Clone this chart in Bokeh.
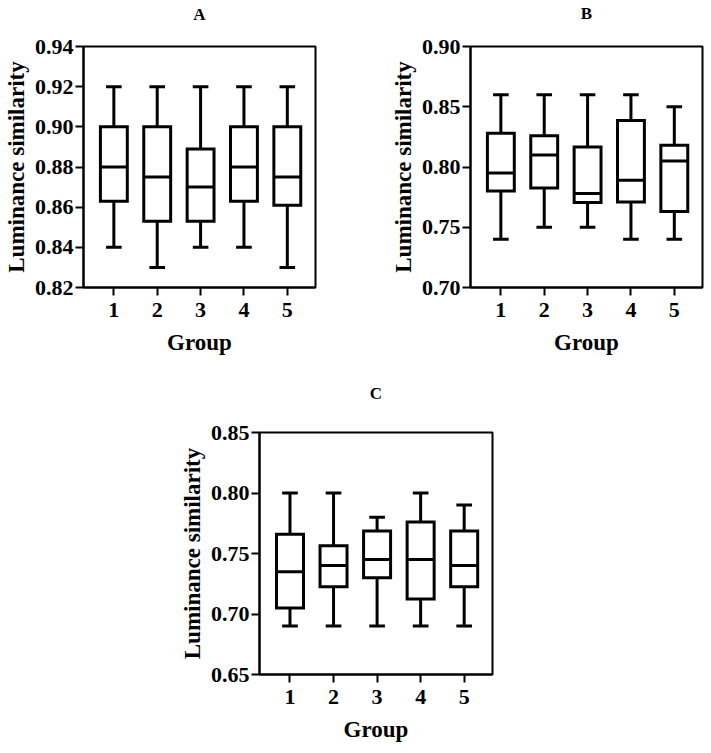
from bokeh.plotting import figure
from bokeh.layouts import column, row
from bokeh.models import Spacer, FixedTicker, NumeralTickFormatter, Range1d, LinearAxis
from bokeh.embed import file_html
from bokeh.resources import INLINE

# Five groups, one box per group in every panel
groups = [1, 2, 3, 4, 5]
group_labels = ["1", "2", "3", "4", "5"]

# Panel A: luminance similarity summary (whisker low, Q1, median, Q3, whisker high)
a_low = [0.84, 0.83, 0.84, 0.84, 0.83]
a_q1 = [0.863, 0.853, 0.853, 0.863, 0.861]
a_med = [0.88, 0.875, 0.87, 0.88, 0.875]
a_q3 = [0.90, 0.90, 0.889, 0.90, 0.90]
a_high = [0.92, 0.92, 0.92, 0.92, 0.92]
a_ticks = [0.82, 0.84, 0.86, 0.88, 0.90, 0.92, 0.94]

# Panel B
b_low = [0.74, 0.75, 0.75, 0.74, 0.74]
b_q1 = [0.780, 0.7825, 0.7705, 0.771, 0.763]
b_med = [0.795, 0.81, 0.778, 0.789, 0.805]
b_q3 = [0.828, 0.826, 0.8165, 0.8385, 0.818]
b_high = [0.86, 0.86, 0.86, 0.86, 0.85]
b_ticks = [0.70, 0.75, 0.80, 0.85, 0.90]

# Panel C
c_low = [0.69, 0.69, 0.69, 0.69, 0.69]
c_q1 = [0.705, 0.7225, 0.730, 0.7125, 0.7225]
c_med = [0.735, 0.74, 0.745, 0.745, 0.74]
c_q3 = [0.766, 0.7565, 0.7685, 0.776, 0.7685]
c_high = [0.80, 0.80, 0.78, 0.80, 0.79]
c_ticks = [0.65, 0.70, 0.75, 0.80, 0.85]

FONT = "Liberation Serif"
X_START, X_END = 0.3, 5.65
BOX_W = 0.62
CAP_W = 0.36
LW = 3


def panel(letter, low, q1, med, q3, high, yticks, width, height,
          left, right, top, bottom, letter_end, letter_gap):
    p = figure(width=width, height=height, output_backend="svg",
               toolbar_location=None, tools="", title=None,
               x_range=Range1d(X_START, X_END),
               y_range=Range1d(yticks[0], yticks[-1]),
               min_border_left=left, min_border_right=right,
               min_border_top=top, min_border_bottom=bottom)
    p.grid.visible = False
    p.background_fill_color = "white"
    p.border_fill_color = "white"
    p.outline_line_color = "black"
    p.outline_line_width = 2
    p.outline_line_alpha = 1

    # whiskers
    p.segment(x0=groups, y0=q3, x1=groups, y1=high, line_color="black", line_width=LW)
    p.segment(x0=groups, y0=low, x1=groups, y1=q1, line_color="black", line_width=LW)
    # caps
    cl = [g - CAP_W / 2 for g in groups]
    cr = [g + CAP_W / 2 for g in groups]
    p.segment(x0=cl, y0=high, x1=cr, y1=high, line_color="black", line_width=LW)
    p.segment(x0=cl, y0=low, x1=cr, y1=low, line_color="black", line_width=LW)
    # boxes
    p.vbar(x=groups, bottom=q1, top=q3, width=BOX_W, fill_color="white",
           line_color="black", line_width=LW, line_join="miter")
    # medians
    bl = [g - BOX_W / 2 for g in groups]
    br = [g + BOX_W / 2 for g in groups]
    p.segment(x0=bl, y0=med, x1=br, y1=med, line_color="black", line_width=LW)

    for ax in (p.xaxis[0], p.yaxis[0]):
        ax.axis_line_color = "black"
        ax.axis_line_width = 2
        ax.major_tick_line_color = "black"
        ax.major_tick_line_width = 2
        ax.major_tick_in = 0
        ax.major_tick_out = 8
        ax.minor_tick_line_color = None
        ax.major_label_text_font = FONT
        ax.major_label_text_font_style = "bold"
        ax.major_label_text_font_size = "22px"
        ax.major_label_text_color = "black"
        ax.axis_label_text_font = FONT
        ax.axis_label_text_font_style = "bold"
        ax.axis_label_text_font_size = "23px"
        ax.axis_label_text_color = "black"

    p.xaxis.ticker = FixedTicker(ticks=groups)
    p.xaxis.major_label_overrides = {g: s for g, s in zip(groups, group_labels)}
    p.xaxis.major_label_standoff = 7
    p.xaxis.axis_label = "Group"
    p.xaxis.axis_label_standoff = 10

    p.yaxis.ticker = FixedTicker(ticks=yticks)
    p.yaxis.formatter = NumeralTickFormatter(format="0.00")
    p.yaxis.major_label_standoff = 2
    p.yaxis.axis_label = "Luminance similarity"
    p.yaxis.axis_label_standoff = 3

    # panel letter: label of a tick-less, line-less axis above the frame
    top_axis = LinearAxis(ticker=FixedTicker(ticks=[]), bounds=(X_START, letter_end),
                          axis_line_color=None, minor_tick_line_color=None,
                          major_tick_in=0, major_tick_out=0,
                          minor_tick_in=0, minor_tick_out=0,
                          major_label_standoff=0,
                          axis_label=letter, axis_label_standoff=letter_gap,
                          axis_label_text_font=FONT,
                          axis_label_text_font_style="bold",
                          axis_label_text_font_size="17px",
                          axis_label_text_color="black")
    p.add_layout(top_axis, "above")
    return p


pa = panel("A", a_low, a_q1, a_med, a_q3, a_high, a_ticks,
           350, 375, 83, 35, 46, 88, 5.17, 23)
pb = panel("B", b_low, b_q1, b_med, b_q3, b_high, b_ticks,
           361, 375, 120, 9, 46, 88, 5.28, 24)
pc = panel("C", c_low, c_q1, c_med, c_q3, c_high, c_ticks,
           360, 378, 89, 38, 57, 79, 5.06, 30)

layout = column(row(pa, pb), row(Spacer(width=170, height=378), pc))

open("out.html", "w").write(file_html(layout, INLINE))
